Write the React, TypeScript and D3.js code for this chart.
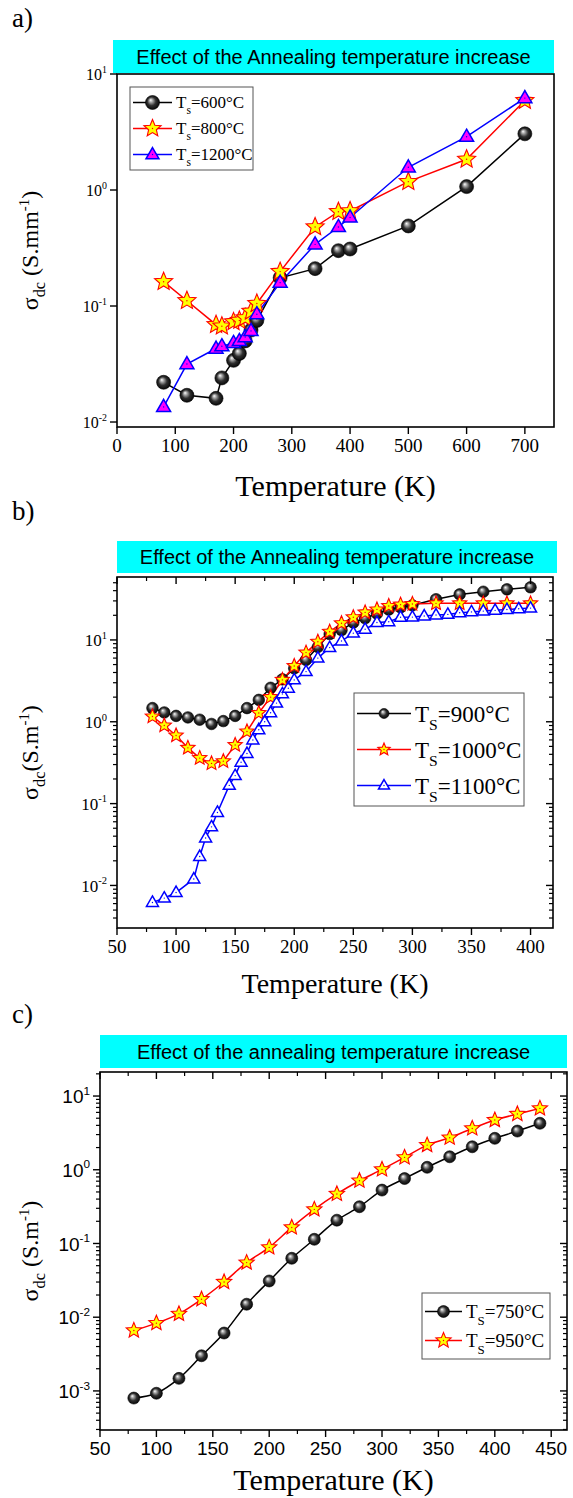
import React from 'react';
import * as d3 from 'd3';

const SERIF = '"Liberation Serif", "Times New Roman", Times, serif';
const SANS = '"Liberation Sans", Arial, sans-serif';

// ---- Panel a: annealing at 600, 800 and 1200 °C ----
const tempA = [80, 120, 170, 180, 200, 210, 220, 230, 240, 280, 340, 380, 400, 500, 600, 700];
const sigmaA600 = [0.022, 0.017, 0.016, 0.024, 0.034, 0.039, 0.05, 0.062, 0.075, 0.175, 0.21, 0.3, 0.31, 0.49, 1.07, 3.05];
const sigmaA800 = [0.162, 0.111, 0.069, 0.067, 0.073, 0.075, 0.079, 0.09, 0.105, 0.198, 0.48, 0.65, 0.66, 1.18, 1.84, 5.9];
const sigmaA1200 = [0.0135, 0.0316, 0.043, 0.045, 0.048, 0.05, 0.054, 0.061, 0.085, 0.159, 0.34, 0.48, 0.58, 1.57, 2.88, 6.2];
const xTicksA = [0, 100, 200, 300, 400, 500, 600, 700];

// ---- Panel b: annealing at 900, 1000 and 1100 °C ----
const tempB = [80, 90, 100, 110, 120, 130, 140, 150, 160, 170, 180, 190, 200, 210, 220, 230, 240, 250, 260, 270, 280, 290, 300, 320, 340, 360, 380, 400];
const sigmaB900 = [1.47, 1.3, 1.18, 1.13, 1.06, 0.94, 1.02, 1.18, 1.47, 1.85, 2.6, 3.3, 4.5, 5.7, 8.2, 11.8, 13.2, 16.3, 18.4, 21, 23.5, 25, 26.5, 31.4, 36, 38.8, 41.5, 44];
const sigmaB1000 = [1.16, 0.9, 0.68, 0.48, 0.36, 0.31, 0.33, 0.52, 0.76, 1.28, 2.0, 3.25, 4.8, 7.0, 9.5, 12.6, 16, 18.9, 21.7, 23.6, 26, 27, 27.5, 28, 28, 28, 28, 28];
const tempB1100 = [80, 90, 100, 115, 120, 125, 130, 135, 145, 150, 155, 160, 165, 170, 175, 180, 185, 190, 195, 200, 210, 220, 230, 240, 250, 260, 270, 280, 290, 300, 310, 320, 330, 340, 350, 360, 370, 380, 390, 400];
const sigmaB1100 = [0.0062, 0.007, 0.0082, 0.012, 0.0226, 0.038, 0.052, 0.078, 0.167, 0.22, 0.32, 0.41, 0.6, 0.8, 1.0, 1.29, 1.69, 2.19, 2.57, 3.25, 4.1, 6.0, 8.06, 9.7, 12.1, 13.5, 16.3, 16.7, 18.9, 19, 19.6, 20.2, 20.5, 21.5, 22, 22.5, 23, 23.5, 24, 24.5];
const xTicksB = [50, 100, 150, 200, 250, 300, 350, 400];

// ---- Panel c: annealing at 750 and 950 °C ----
const tempC = [80, 100, 120, 140, 160, 180, 200, 220, 240, 260, 280, 300, 320, 340, 360, 380, 400, 420, 440];
const sigmaC750 = [0.0008, 0.00093, 0.00148, 0.003, 0.0061, 0.015, 0.031, 0.063, 0.114, 0.207, 0.315, 0.53, 0.76, 1.08, 1.5, 2.05, 2.67, 3.35, 4.27];
const sigmaC950 = [0.0066, 0.0083, 0.0111, 0.0175, 0.03, 0.055, 0.0885, 0.165, 0.29, 0.47, 0.71, 1.01, 1.47, 2.16, 2.72, 3.63, 4.72, 5.7, 6.8];
const xTicksC = [50, 100, 150, 200, 250, 300, 350, 400, 450];

type MarkerKind = 'ball' | 'star' | 'triFilled' | 'triOpen';

interface Series {
  t: number[];
  v: number[];
  color: string;
  marker: MarkerKind;
  size: number;
  legendSize: number;
  label: string;
}

function starPath(r: number): string {
  const pts: string[] = [];
  for (let i = 0; i < 10; i++) {
    const rr = i % 2 === 0 ? r : r * 0.45;
    const a = -Math.PI / 2 + (i * Math.PI) / 5;
    pts.push(`${(rr * Math.cos(a)).toFixed(2)},${(rr * Math.sin(a)).toFixed(2)}`);
  }
  return 'M' + pts.join('L') + 'Z';
}

function triPath(s: number): string {
  const h = s * 0.866;
  return `M0,${(-h * 0.62).toFixed(2)}L${(s / 2).toFixed(2)},${(h * 0.38).toFixed(2)}L${(-s / 2).toFixed(2)},${(h * 0.38).toFixed(2)}Z`;
}

function Marker({ kind, cx, cy, size }: { kind: MarkerKind; cx: number; cy: number; size: number }) {
  const tr = `translate(${cx},${cy})`;
  if (kind === 'ball') {
    return <circle cx={cx} cy={cy} r={size} fill="url(#ballGrad)" stroke="#000" strokeWidth={0.6} />;
  }
  if (kind === 'star') {
    return (
      <g transform={tr}>
        <path d={starPath(size)} fill="#ffff00" stroke="#ff0000" strokeWidth={1.1} strokeLinejoin="miter" />
        <circle r={0.7} fill="#ff0000" />
      </g>
    );
  }
  if (kind === 'triFilled') {
    return (
      <g transform={tr}>
        <path d={triPath(size)} fill="#ff00ff" stroke="#0000ff" strokeWidth={1.5} />
        <circle r={0.7} fill="#0000ff" />
      </g>
    );
  }
  return (
    <g transform={tr}>
      <path d={triPath(size)} fill="#ffffff" stroke="#0000ff" strokeWidth={1.5} />
      <circle r={0.7} fill="#0000ff" />
    </g>
  );
}

interface PanelProps {
  tag: string;
  tagY: number;
  banner: string;
  bannerBox: [number, number, number, number];
  bannerFont: number;
  left: number;
  right: number;
  top: number;
  bottom: number;
  xDomain: [number, number];
  xTicks: number[];
  xMinorStep: number | null;
  yDomain: [number, number];
  yMinor: boolean;
  mirrorTicks: boolean;
  tickFont: string;
  xTickSize: number;
  yTickSize: number;
  yUnit: string;
  yTitleGap: string;
  yTitleX: number;
  yTitleSize: number;
  xTitleY: number;
  xTitleSize: number;
  series: Series[];
  curve: d3.CurveFactory;
  legend: { x: number; y: number; w: number; h: number; rowH: number; font: number; sub: string; subDy: number; lineLen: number };
}

function Panel(p: PanelProps) {
  const x = d3.scaleLinear().domain(p.xDomain).range([p.left, p.right]);
  const y = d3.scaleLog().domain(p.yDomain).range([p.bottom, p.top]);
  const line = d3
    .line<[number, number]>()
    .x((d) => x(d[0]))
    .y((d) => y(d[1]))
    .curve(p.curve);

  const eMin = Math.floor(Math.log10(p.yDomain[0]));
  const eMax = Math.ceil(Math.log10(p.yDomain[1]));
  const yMajor: number[] = [];
  const yMinorTicks: number[] = [];
  for (let e = eMin; e <= eMax; e++) {
    for (let k = 1; k <= 9; k++) {
      const v = k * Math.pow(10, e);
      if (v < p.yDomain[0] * 0.999 || v > p.yDomain[1] * 1.001) continue;
      if (k === 1) yMajor.push(e);
      else yMinorTicks.push(v);
    }
  }
  const xMinorTicks: number[] = [];
  if (p.xMinorStep) {
    for (let v = p.xDomain[0]; v <= p.xDomain[1] + 1e-9; v += p.xMinorStep) {
      if (!p.xTicks.includes(v)) xMinorTicks.push(v);
    }
  }
  const major = 7;
  const minor = 4;
  const lg = p.legend;
  const cx = (p.left + p.right) / 2;
  const cyMid = (p.top + p.bottom) / 2;

  return (
    <g>
      <text x={12} y={p.tagY} fontFamily={SERIF} fontSize={27} fill="#000">
        {p.tag}
      </text>
      <rect x={p.bannerBox[0]} y={p.bannerBox[1]} width={p.bannerBox[2]} height={p.bannerBox[3]} fill="#00ffff" />
      <text
        x={p.bannerBox[0] + p.bannerBox[2] / 2}
        y={p.bannerBox[1] + p.bannerBox[3] / 2 + p.bannerFont * 0.36}
        textAnchor="middle"
        fontFamily={SANS}
        fontSize={p.bannerFont}
        fill="#000"
      >
        {p.banner}
      </text>

      {/* data */}
      {p.series.map((s, i) => (
        <path key={'l' + i} d={line(s.t.map((t, j) => [t, s.v[j]] as [number, number])) || ''} fill="none" stroke={s.color} strokeWidth={1.5} />
      ))}
      {p.series.map((s, i) => (
        <g key={'m' + i}>
          {s.t.map((t, j) => (
            <Marker key={j} kind={s.marker} cx={x(t)} cy={y(s.v[j])} size={s.size} />
          ))}
        </g>
      ))}

      {/* frame */}
      <rect x={p.left} y={p.top} width={p.right - p.left} height={p.bottom - p.top} fill="none" stroke="#000" strokeWidth={1.6} />

      {/* x ticks */}
      {p.xTicks.map((v) => (
        <g key={'xt' + v}>
          <line x1={x(v)} x2={x(v)} y1={p.bottom} y2={p.bottom + major} stroke="#000" strokeWidth={1.4} />
          {p.mirrorTicks && <line x1={x(v)} x2={x(v)} y1={p.top} y2={p.top + major} stroke="#000" strokeWidth={1.4} />}
          <text x={x(v)} y={p.bottom + major + p.xTickSize * 0.95} textAnchor="middle" fontFamily={p.tickFont} fontSize={p.xTickSize} fill="#000">
            {v}
          </text>
        </g>
      ))}
      {xMinorTicks.map((v) => (
        <g key={'xm' + v}>
          <line x1={x(v)} x2={x(v)} y1={p.bottom} y2={p.bottom + minor} stroke="#000" strokeWidth={1.2} />
          {p.mirrorTicks && <line x1={x(v)} x2={x(v)} y1={p.top} y2={p.top + minor} stroke="#000" strokeWidth={1.2} />}
        </g>
      ))}

      {/* y ticks */}
      {yMajor.map((e) => {
        const yy = y(Math.pow(10, e));
        return (
          <g key={'yt' + e}>
            <line x1={p.left - major} x2={p.left} y1={yy} y2={yy} stroke="#000" strokeWidth={1.4} />
            {p.mirrorTicks && <line x1={p.right - major} x2={p.right} y1={yy} y2={yy} stroke="#000" strokeWidth={1.4} />}
            <text x={p.left - major - 3} y={yy + p.yTickSize * 0.38} textAnchor="end" fontFamily={p.tickFont} fontSize={p.yTickSize} fill="#000">
              10
              <tspan dy={-p.yTickSize * 0.45} fontSize={p.yTickSize * 0.62}>
                {e === 0 ? '0' : String(e)}
              </tspan>
            </text>
          </g>
        );
      })}
      {p.yMinor &&
        yMinorTicks.map((v, i) => (
          <g key={'ym' + i}>
            <line x1={p.left - minor} x2={p.left} y1={y(v)} y2={y(v)} stroke="#000" strokeWidth={1.2} />
            {p.mirrorTicks && <line x1={p.right - minor} x2={p.right} y1={y(v)} y2={y(v)} stroke="#000" strokeWidth={1.2} />}
          </g>
        ))}

      {/* axis titles */}
      <text x={cx} y={p.xTitleY} textAnchor="middle" fontFamily={SERIF} fontSize={p.xTitleSize} fill="#000">
        Temperature (K)
      </text>
      <text
        transform={`translate(${p.yTitleX},${cyMid}) rotate(-90)`}
        textAnchor="middle"
        fontFamily={SERIF}
        fontSize={p.yTitleSize}
        fill="#000"
      >
        σ
        <tspan dy={p.yTitleSize * 0.3} fontSize={p.yTitleSize * 0.68}>
          dc
        </tspan>
        <tspan dy={-p.yTitleSize * 0.3}>{p.yTitleGap}(S.{p.yUnit}</tspan>
        <tspan dy={-p.yTitleSize * 0.38} fontSize={p.yTitleSize * 0.62}>
          -1
        </tspan>
        <tspan dy={p.yTitleSize * 0.38}>)</tspan>
      </text>

      {/* legend */}
      <rect x={lg.x} y={lg.y} width={lg.w} height={lg.h} fill="#fff" stroke="#555" strokeWidth={1} />
      {p.series.map((s, i) => {
        const ry = lg.y + lg.rowH * (i + 0.5) + (lg.h - lg.rowH * p.series.length) / 2;
        const lx1 = lg.x + 3;
        const lx2 = lx1 + lg.lineLen;
        return (
          <g key={'lg' + i}>
            <line x1={lx1} x2={lx2} y1={ry} y2={ry} stroke={s.color} strokeWidth={1.5} />
            <Marker kind={s.marker} cx={(lx1 + lx2) / 2} cy={ry} size={s.legendSize} />
            <text x={lx2 + 4} y={ry + lg.font * 0.35} fontFamily={SERIF} fontSize={lg.font} fill="#000">
              T
              <tspan dy={lg.subDy} fontSize={lg.font * 0.68}>
                {lg.sub}
              </tspan>
              <tspan dy={-lg.subDy}>={s.label}</tspan>
            </text>
          </g>
        );
      })}
    </g>
  );
}

export default function App() {
  return (
    <svg
      width={573}
      height={1498}
      viewBox="0 0 573 1498"
      style={{ position: 'absolute', left: 0, top: 0, background: '#fff' }}
    >
      <defs>
        <radialGradient id="ballGrad" cx="0.5" cy="0.5" r="0.55" fx="0.36" fy="0.32">
          <stop offset="0" stopColor="#ffffff" />
          <stop offset="0.2" stopColor="#b0b0b0" />
          <stop offset="0.55" stopColor="#303030" />
          <stop offset="1" stopColor="#000000" />
        </radialGradient>
      </defs>
      <rect x={0} y={0} width={573} height={1498} fill="#fff" />

      <Panel
        tag="a)"
        tagY={27}
        banner="Effect of the Annealing temperature increase"
        bannerBox={[113, 40, 441, 33]}
        bannerFont={20}
        left={117}
        right={554}
        top={74}
        bottom={427}
        xDomain={[0, 750]}
        xTicks={xTicksA}
        xMinorStep={null}
        yDomain={[Math.pow(10, -2.043), 10]}
        yMinor={false}
        mirrorTicks={false}
        tickFont={SERIF}
        xTickSize={19}
        yTickSize={16}
        yUnit="mm"
        yTitleGap=" "
        yTitleX={38}
        yTitleSize={24}
        xTitleY={496}
        xTitleSize={30}
        curve={d3.curveLinear}
        series={[
          { t: tempA, v: sigmaA600, color: '#000000', marker: 'ball', size: 7, legendSize: 7, label: '600°C' },
          { t: tempA, v: sigmaA800, color: '#ff0000', marker: 'star', size: 9.5, legendSize: 9, label: '800°C' },
          { t: tempA, v: sigmaA1200, color: '#0000ff', marker: 'triFilled', size: 14, legendSize: 13, label: '1200°C' },
        ]}
        legend={{ x: 130, y: 87, w: 123, h: 83, rowH: 26, font: 17, sub: 's', subDy: 6, lineLen: 39 }}
      />

      <Panel
        tag="b)"
        tagY={520}
        banner="Effect of the Annealing temperature increase"
        bannerBox={[117, 541, 440, 32]}
        bannerFont={20}
        left={117}
        right={553}
        top={577}
        bottom={928}
        xDomain={[50, 419]}
        xTicks={xTicksB}
        xMinorStep={25}
        yDomain={[Math.pow(10, -2.52), Math.pow(10, 1.769)]}
        yMinor={true}
        mirrorTicks={true}
        tickFont={SERIF}
        xTickSize={19}
        yTickSize={17}
        yUnit="m"
        yTitleGap=""
        yTitleX={38}
        yTitleSize={24}
        xTitleY={993}
        xTitleSize={28}
        curve={d3.curveLinear}
        series={[
          { t: tempB, v: sigmaB900, color: '#000000', marker: 'ball', size: 5.8, legendSize: 5, label: '900°C' },
          { t: tempB, v: sigmaB1000, color: '#ff0000', marker: 'star', size: 7.5, legendSize: 6.5, label: '1000°C' },
          { t: tempB1100, v: sigmaB1100, color: '#0000ff', marker: 'triOpen', size: 12, legendSize: 11, label: '1100°C' },
        ]}
        legend={{ x: 354, y: 693, w: 170, h: 113, rowH: 36, font: 23, sub: 'S', subDy: 8, lineLen: 54 }}
      />

      <Panel
        tag="c)"
        tagY={1023}
        banner="Effect of the annealing temperature increase"
        bannerBox={[100, 1035, 467, 33]}
        bannerFont={20}
        left={100}
        right={567}
        top={1072}
        bottom={1430}
        xDomain={[50, 464]}
        xTicks={xTicksC}
        xMinorStep={25}
        yDomain={[Math.pow(10, -3.53), Math.pow(10, 1.326)]}
        yMinor={true}
        mirrorTicks={true}
        tickFont={SANS}
        xTickSize={19}
        yTickSize={19}
        yUnit="m"
        yTitleGap=" "
        yTitleX={38}
        yTitleSize={24}
        xTitleY={1490}
        xTitleSize={30}
        curve={d3.curveCatmullRom}
        series={[
          { t: tempC, v: sigmaC750, color: '#000000', marker: 'ball', size: 6, legendSize: 6, label: '750°C' },
          { t: tempC, v: sigmaC950, color: '#ff0000', marker: 'star', size: 8, legendSize: 8, label: '950°C' },
        ]}
        legend={{ x: 422, y: 1293, w: 128, h: 66, rowH: 29, font: 19, sub: 'S', subDy: 7, lineLen: 37 }}
      />
    </svg>
  );
}
